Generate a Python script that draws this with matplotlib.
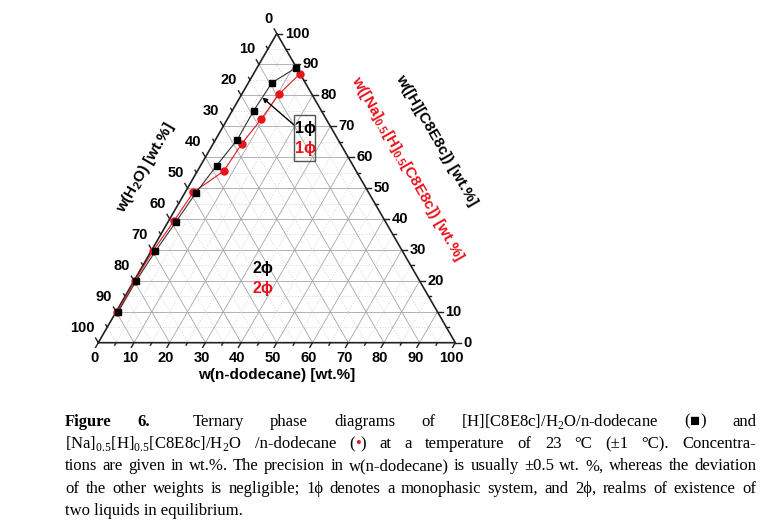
import numpy as np
import matplotlib
matplotlib.use("Agg")
import matplotlib.pyplot as plt
from matplotlib.patches import Rectangle

# ---------------- data (wt.%) ----------------
ticks_major = list(range(0, 101, 10))
ticks_minor = list(range(5, 100, 10))

# [H][C8E8c] / H2O / n-dodecane  (black squares)
blk_dodecane = [11.0, 6.6, 6.0, 6.1, 4.5, 3.1, 2.2, 1.2, 0.6, 0.6]
blk_surf     = [89.0, 84.1, 75.1, 65.6, 57.3, 48.4, 39.1, 29.6, 20.1, 9.9]
# [Na]0.5[H]0.5[C8E8c] / H2O / n-dodecane  (red circles)
red_dodecane = [13.0, 10.4, 9.5, 8.0, 7.4, 2.3, 1.5, 0.5, 0.2, 0.3]
red_surf     = [87.0, 80.4, 72.4, 64.4, 55.5, 48.7, 39.3, 29.8, 20.1, 10.0]

label_bottom = "w(n-dodecane) [wt.%]"
label_left = r"w(H$_\mathregular{2}$O) [wt.%]"
label_right_blk = "w([H][C8E8c]) [wt.%]"
label_right_red = r"w([Na]$_\mathregular{0.5}$[H]$_\mathregular{0.5}$[C8E8c]) [wt.%]"

W, H = 783, 529
fig = plt.figure(figsize=(W / 100, H / 100), dpi=100)
fig.patch.set_facecolor("white")

# triangle geometry in pixels (image coords, y down)
X0, Y0, SIDE = 98.3, 342.7, 357.0
R3 = np.sqrt(3) / 2
ax = fig.add_axes([X0 / W, 1 - Y0 / H, SIDE / W, SIDE * R3 / H])
ax.set_xlim(0, 100)
ax.set_ylim(0, 100 * R3)
ax.axis("off")

SANS = ["Liberation Sans", "DejaVu Sans"]
SERIF_ONLY = "Liberation Serif"
SERIF = ["Liberation Serif", "DejaVu Serif", "DejaVu Sans"]


def tern(d, s):
    d = np.asarray(d, float)
    s = np.asarray(s, float)
    return d + s / 2.0, s * R3


def axfrac(px, py):
    return (px - X0) / SIDE, (Y0 - py) / (SIDE * R3)


# ---------------- grid ----------------
for k in range(5, 100, 5):
    major = (k % 10 == 0)
    kw = dict(color="#a6a6a6", lw=0.6, ls="-") if major else dict(color="#d4d4d4", lw=0.5, ls=(0, (2, 2)))
    x, y = tern([0, 100 - k], [k, k])           # constant surfactant
    ax.plot(x, y, zorder=1, **kw)
    x, y = tern([k, k], [0, 100 - k])           # constant dodecane
    ax.plot(x, y, zorder=1, **kw)
    x, y = tern([0, 100 - k], [100 - k, 0])     # constant water
    ax.plot(x, y, zorder=1, **kw)

# frame
x, y = tern([0, 100, 0, 0], [0, 0, 100, 0])
ax.plot(x, y, color="#222222", lw=1.2, zorder=3, solid_joinstyle="miter", clip_on=False)


# ---------------- ticks ----------------
def draw_ticks(vals, length, lbl):
    for v in vals:
        bx, by = tern(v, 0)
        ax.plot([bx, bx - 0.5 * length], [by, by - R3 * length], color="#222222", lw=1.0, clip_on=False)
        lx, ly = tern(0, 100 - v)
        ax.plot([lx, lx - 0.5 * length], [ly, ly + R3 * length], color="#222222", lw=1.0, clip_on=False)
        rx, ry = tern(100 - v, v)
        ax.plot([rx, rx + length], [ry, ry], color="#222222", lw=1.0, clip_on=False)
        if lbl:
            tk = dict(textcoords="offset pixels", fontsize=10.5, fontweight="bold", family=SANS, annotation_clip=False)
            ax.annotate(str(v), (bx, by), xytext=(-4, -15), ha="center", va="center", **tk)
            ax.annotate(str(v), (lx, ly), xytext=(-4, 15), ha="right", va="center", **tk)
            ax.annotate(str(v), (rx, ry), xytext=(8, 0), ha="left", va="center", **tk)


draw_ticks(ticks_major, 1.5, True)
draw_ticks(ticks_minor, 0.8, False)

# ---------------- data ----------------
x, y = tern(red_dodecane, red_surf)
ax.plot(x, y, color="#e8141c", lw=0.8, marker="o", ms=5, mec="#e8141c", mfc="#e8141c", zorder=5, clip_on=False)
x, y = tern(blk_dodecane, blk_surf)
ax.plot(x, y, color="#333333", lw=0.8, marker="s", ms=4.5, mec="black", mfc="black", zorder=6, clip_on=False)

# ---------------- annotations ----------------
bx0, by0 = axfrac(294, 160.7)
bx1, by1 = axfrac(315.3, 115)
ax.add_patch(Rectangle((bx0, by0), bx1 - bx0, by1 - by0, transform=ax.transAxes,
                       fill=False, ec="#555555", lw=1.0, zorder=7, clip_on=False))
ptxt = dict(transform=ax.transAxes, ha="center", va="center", fontsize=11.5, fontweight="bold", family=SANS, zorder=8)
ax.text(*axfrac(305, 128), "1ϕ", color="black", **ptxt)
ax.text(*axfrac(305, 149), "1ϕ", color="#e8141c", **ptxt)
ax.text(*axfrac(262.7, 268.3), "2ϕ", color="black", **ptxt)
ax.text(*axfrac(262.7, 288.3), "2ϕ", color="#e8141c", **ptxt)
ax.annotate("", xy=tern(6.3, 79.3), xycoords="data", xytext=axfrac(294, 125), textcoords="axes fraction",
            arrowprops=dict(arrowstyle="-|>", color="black", lw=1.0, mutation_scale=7, shrinkA=0, shrinkB=0),
            zorder=8, annotation_clip=False)

# ---------------- axis titles ----------------
ttl = dict(transform=ax.transAxes, fontsize=11, fontweight="bold", family=SANS, rotation_mode="anchor",
           ha="center", va="center")
ax.text(*axfrac(276.7, 375), label_bottom, **ttl)
ax.text(*axfrac(146, 167), label_left, rotation=60, **ttl)
ax.text(*axfrac(436, 140), label_right_blk, rotation=-60, color="black", **ttl)
ax.text(*axfrac(408, 169), label_right_red, rotation=-60, color="#e8141c", **ttl)

# ---------------- caption ----------------
CAP_FS = 12
LEFT, RIGHT = 65, 756
baselines = [425.7, 448.0, 470.3, 492.6, 514.9]
K, R = "black", "#e8141c"

cap_lines = [
    [[("Figure", K, "bold")], [("6.", K, "bold"), ("\u2003\u2003", K, "normal")], "Ternary", "phase", "diagrams", "of",
     r"[H][C8E8c]/H$_\mathregular{2}$O/n-dodecane", [("(", K, "normal"), ("■", K, "normal"), (")", K, "normal")], "and"],
    [r"[Na]$_\mathregular{0.5}$[H]$_\mathregular{0.5}$[C8E8c]/H$_\mathregular{2}$O", "/n-dodecane",
     [("(", K, "normal"), ("•", R, "normal"), (")", K, "normal")], "at", "a", "temperature", "of", "23", "°C",
     "(±1", "°C).", "Concentra-"],
    "tions are given in wt.%. The precision in w(n-dodecane) is usually ±0.5 wt. %, whereas the deviation".split(" "),
    "of the other weights is negligible; 1ϕ denotes a monophasic system, and 2ϕ, realms of existence of".split(" "),
]
last_line = "two liquids in equilibrium."

renderer = fig.canvas.get_renderer()


def mk(txt, color, weight, yb):
    fam = SERIF if any(c in txt for c in "■•ϕ\u2003") else SERIF_ONLY
    return fig.text(0, 1 - yb / H, txt, color=color, fontweight=weight, family=fam,
                    fontsize=CAP_FS, ha="left", va="baseline")


def width_of(t, txt):
    if txt.strip() == "":
        return 1.6 * CAP_FS * 100 / 72.0 * 0.6
    return t.get_window_extent(renderer).width


for words, yb in zip(cap_lines, baselines):
    items = []
    total = 0.0
    for w in words:
        segs = w if isinstance(w, list) else [(w, K, "normal")]
        arts = []
        wsum = 0.0
        for txt, col, wt in segs:
            t = mk(txt, col, wt, yb)
            wd = width_of(t, txt)
            arts.append((t, wd))
            wsum += wd
        items.append((arts, wsum))
        total += wsum
    gap = (RIGHT - LEFT - total) / (len(items) - 1)
    xpos = LEFT
    for arts, wsum in items:
        xx = xpos
        for t, wd in arts:
            t.set_x(xx / W)
            xx += wd
        xpos += wsum + gap

t = mk(last_line, K, "normal", baselines[4])
t.set_x(LEFT / W)

fig.savefig("out.png", dpi=100, facecolor="white")
